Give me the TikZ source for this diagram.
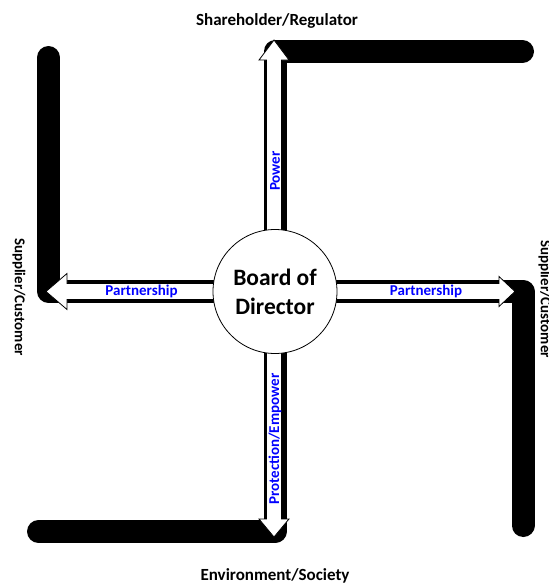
\documentclass[tikz,border=0pt]{standalone}
\usepackage{fontspec}
\setmainfont{Carlito}
\usetikzlibrary{calc}
\definecolor{lblblue}{RGB}{0,0,255}
\tikzset{
  bar/.style={line width=23pt, line cap=round, line join=round, draw=black},
  arrowbody/.style={draw=black, line width=0.8pt, fill=white, line join=miter},
  lbl/.style={font=\bfseries\fontsize{17}{20}\selectfont, inner sep=0pt},
  slbl/.style={font=\bfseries\fontsize{15}{18}\selectfont, inner sep=0pt},
  blbl/.style={font=\bfseries\fontsize{15}{18}\selectfont, text=lblblue, inner sep=0pt},
  board/.style={circle, draw=black, line width=0.8pt, fill=white, minimum size=124pt, inner sep=0pt, align=center, font=\bfseries\fontsize{23.5}{29}\selectfont}
}
\begin{document}
\begin{tikzpicture}[x=1pt,y=-1pt]
\useasboundingbox (0,0) rectangle (549,584);
\coordinate (ctr) at (275,291.5);
% corners and ends of the black arms
\coordinate (nC) at (275,51.5);
\coordinate (nE) at (522.5,51.5);
\coordinate (wC) at (48.5,291.5);
\coordinate (wE) at (48.5,57.5);
\coordinate (eC) at (523,291.5);
\coordinate (eE) at (523,525.5);
\coordinate (sC) at (275,531.5);
\coordinate (sE) at (38.5,531.5);
% arrow tips
\coordinate (tipN) at (274,40);
\coordinate (tipW) at (46,291.5);
\coordinate (tipE) at (515,291.5);
\coordinate (tipS) at (274,537);
% black arms
\draw[bar] (ctr) -- (nC) -- (nE);
\draw[bar] (ctr) -- (wC) -- (wE);
\draw[bar] (ctr) -- (eC) -- (eE);
\draw[bar] (ctr) -- (sC) -- (sE);
% white arrows
\draw[arrowbody] (tipN) -- ++(15,20) -- ++(-7.5,0) |- (ctr) -| ($(tipN)+(-7.5,20)$) -- ++(-7.5,0) -- cycle;
\draw[arrowbody] (tipS) -- ++(-15,-18) -- ++(7.5,0) |- (ctr) -| ($(tipS)+(7.5,-18)$) -- ++(7.5,0) -- cycle;
\draw[arrowbody] (tipW) -- ++(21,-18) -- ++(0,10) -| (ctr) |- ($(tipW)+(21,8)$) -- ++(0,10) -- cycle;
\draw[arrowbody] (tipE) -- ++(-16,-15) -- ++(0,7) -| (ctr) |- ($(tipE)+(-16,8)$) -- ++(0,7) -- cycle;
% centre
\node[board] (bod) at (ctr) {Board of\\Director};
% labels
\node[lbl, anchor=base] (top) at (277,25) {Shareholder/Regulator};
\node[lbl, anchor=base] (bot) at (275,580) {Environment/Society};
\node[slbl, rotate=-90] (lft) at (19,297) {Supplier/Customer};
\node[slbl, rotate=-90] (rgt) at (545,299) {Supplier/Customer};
\node[blbl, rotate=90] (pow) at (275,171) {Power};
\node[blbl, rotate=90] (pro) at (275,439) {Protection/Empower};
\node[blbl] (plft) at (141.5,291.5) {Partnership};
\node[blbl] (prgt) at (426,291.5) {Partnership};
\end{tikzpicture}
\end{document}
